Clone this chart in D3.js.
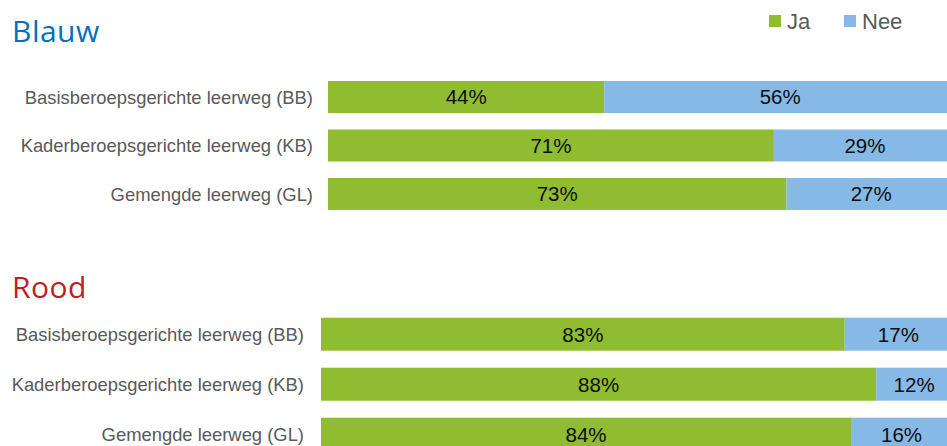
<!DOCTYPE html>
<html><head><meta charset="utf-8">
<script src="https://cdn.jsdelivr.net/npm/d3@7"></script>
<style>html,body{margin:0;padding:0;background:#fff;overflow:hidden}</style>
</head><body>
<svg id="c" width="947" height="446"></svg>
<script>
const categories = ["Basisberoepsgerichte leerweg (BB)", "Kaderberoepsgerichte leerweg (KB)", "Gemengde leerweg (GL)"];
const series = ["Ja", "Nee"];
const blauwJa = [44, 71, 73];
const blauwNee = [56, 29, 27];
const roodJa = [83, 88, 84];
const roodNee = [17, 12, 16];
const colors = ["#8FBC31", "#86B9E6"];

const svg = d3.select("#c");

function panel(title, titleColor, titleY, ja, nee, x0, x1, y0, step, labelX) {
  const data = categories.map((c, i) => ({cat: c, Ja: ja[i], Nee: nee[i]}));
  const stack = d3.stack().keys(series)(data);
  const x = d3.scaleLinear().domain([0, 100]).range([x0, x1]);
  const p = 0.34;
  const y = d3.scaleBand().domain(categories).range([y0 - step * p / 2, y0 - step * p / 2 + step * categories.length]).paddingInner(p).paddingOuter(p / 2);
  svg.append("text").attr("x", 12).attr("y", titleY).text(title)
    .attr("font-family", "'Open Sans', sans-serif").attr("font-size", 30).attr("letter-spacing", 0.5).attr("fill", titleColor);
  const g = svg.append("g");
  stack.forEach((s, si) => {
    g.selectAll(null).data(s).enter().append("rect")
      .attr("x", d => x(d[0])).attr("width", d => x(d[1]) - x(d[0]))
      .attr("y", d => y(d.data.cat)).attr("height", y.bandwidth())
      .attr("fill", colors[si]);
    g.selectAll(null).data(s).enter().append("text")
      .attr("x", d => (x(d[0]) + x(d[1])) / 2)
      .attr("y", d => y(d.data.cat) + y.bandwidth() / 2)
      .attr("dy", "0.36em").attr("text-anchor", "middle")
      .attr("font-family", "'Liberation Sans', Arial, sans-serif").attr("font-size", 20.5).attr("fill", "#0d0d0d")
      .text(d => (d[1] - d[0]) + "%");
  });
  g.selectAll(null).data(categories).enter().append("text")
    .attr("x", labelX).attr("y", d => y(d) + y.bandwidth() / 2).attr("dy", "0.36em")
    .attr("text-anchor", "end")
    .attr("font-family", "'Liberation Sans', Arial, sans-serif").attr("font-size", 18.4).attr("fill", "#595959")
    .text(d => d);
}

panel("Blauw", "#0070C0", 42, blauwJa, blauwNee, 328, 956, 81, 48.5, 313);
panel("Rood", "#C0201E", 298, roodJa, roodNee, 321, 952, 317.7, 50, 304);

const legend = svg.append("g");
const lx = [769, 844];
series.forEach((s, i) => {
  legend.append("rect").attr("x", lx[i]).attr("y", 15).attr("width", 12).attr("height", 12).attr("fill", colors[i]);
  legend.append("text").attr("x", lx[i] + 18).attr("y", 29).text(s)
    .attr("font-family", "'Liberation Sans', Arial, sans-serif").attr("font-size", 22).attr("fill", "#595959");
});
</script>
</body></html>
